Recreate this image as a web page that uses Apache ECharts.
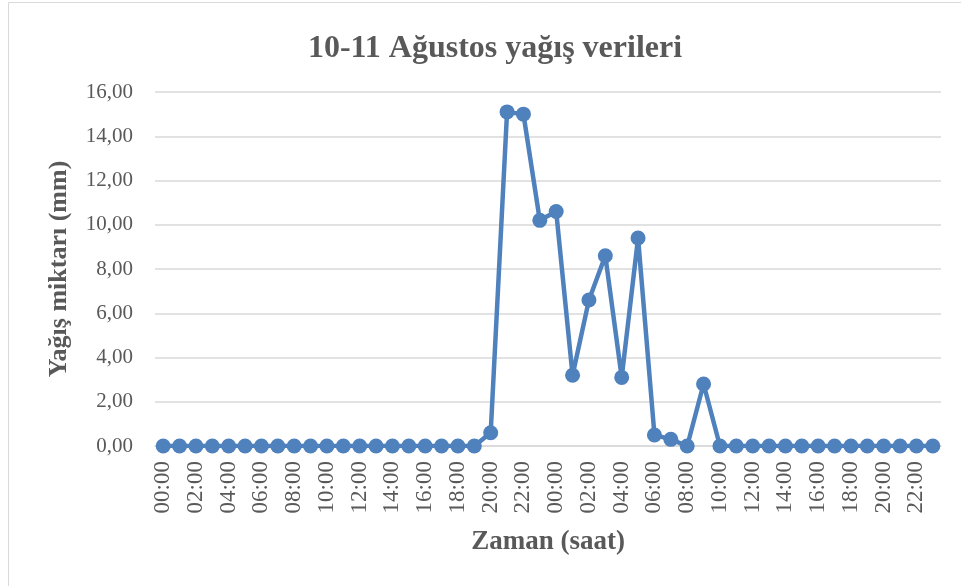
<!DOCTYPE html>
<html>
<head>
<meta charset="utf-8">
<script src="https://cdn.jsdelivr.net/npm/echarts@6/dist/echarts.min.js"></script>
<style>
  html, body { margin: 0; padding: 0; background: #fff; }
  #chart { width: 961px; height: 586px; }
</style>
</head>
<body>
<div id="chart"></div>
<script>
// saat etiketleri (10 ve 11 Ağustos, saatlik)
const hours = [
  "00:00", "01:00", "02:00", "03:00", "04:00", "05:00", "06:00", "07:00",
  "08:00", "09:00", "10:00", "11:00", "12:00", "13:00", "14:00", "15:00",
  "16:00", "17:00", "18:00", "19:00", "20:00", "21:00", "22:00", "23:00"
];
const categories = hours.concat(hours);

// yağış miktarı (mm)
const rainDay1 = [
  0, 0, 0, 0, 0, 0, 0, 0, 0, 0, 0, 0,
  0, 0, 0, 0, 0, 0, 0, 0, 0.6, 15.1, 15.0, 10.2
];
const rainDay2 = [
  10.6, 3.2, 6.6, 8.6, 3.1, 9.4, 0.5, 0.3, 0.0, 2.8, 0, 0,
  0, 0, 0, 0, 0, 0, 0, 0, 0, 0, 0, 0
];
const rain = rainDay1.concat(rainDay2);

const yTicks = { min: 0, max: 16, step: 2 };

const textColor = "#595959";
const serif = "'Liberation Serif', 'Times New Roman', serif";

const chart = echarts.init(document.getElementById("chart"));
const option = {
  animation: false,
  backgroundColor: "#fff",
  graphic: [
    {
      type: "rect",
      shape: { x: 8.5, y: 2.5, width: 980, height: 600 },
      style: { fill: "none", stroke: "#d9d9d9", lineWidth: 1 },
      silent: true
    }
  ],
  title: {
    text: "10-11 Ağustos yağış verileri",
    left: 490,
    textAlign: "center",
    top: 28,
    textStyle: {
      fontFamily: serif,
      fontSize: 32,
      fontWeight: "bold",
      color: textColor
    }
  },
  grid: {
    left: 155,
    right: 20,
    top: 92,
    bottom: 140
  },
  xAxis: {
    type: "category",
    data: categories,
    boundaryGap: true,
    name: "Zaman (saat)",
    nameLocation: "middle",
    nameGap: 83,
    nameTextStyle: {
      fontFamily: serif,
      fontSize: 27,
      fontWeight: "bold",
      color: textColor
    },
    axisLine: { lineStyle: { color: "#d9d9d9", width: 1.5 } },
    axisTick: { show: false },
    axisLabel: {
      interval: 1,
      rotate: 90,
      margin: 15,
      fontFamily: serif,
      fontSize: 23,
      color: textColor
    }
  },
  yAxis: {
    type: "value",
    min: yTicks.min,
    max: yTicks.max,
    interval: yTicks.step,
    name: "Yağış miktarı (mm)",
    nameLocation: "middle",
    nameGap: 83,
    nameTextStyle: {
      fontFamily: serif,
      fontSize: 26,
      fontWeight: "bold",
      color: textColor
    },
    axisLine: { show: false },
    axisTick: { show: false },
    axisLabel: {
      margin: 22,
      fontFamily: serif,
      fontSize: 21,
      color: textColor,
      formatter: (v) => v.toFixed(2).replace(".", ",")
    },
    splitLine: { lineStyle: { color: "#d9d9d9", width: 1.5 } }
  },
  series: [
    {
      type: "line",
      data: rain,
      symbol: "circle",
      symbolSize: 15,
      showAllSymbol: true,
      lineStyle: { color: "#4f81bd", width: 4.5 },
      itemStyle: { color: "#4f81bd" },
      z: 3
    }
  ]
};
chart.setOption(option);
</script>
</body>
</html>
